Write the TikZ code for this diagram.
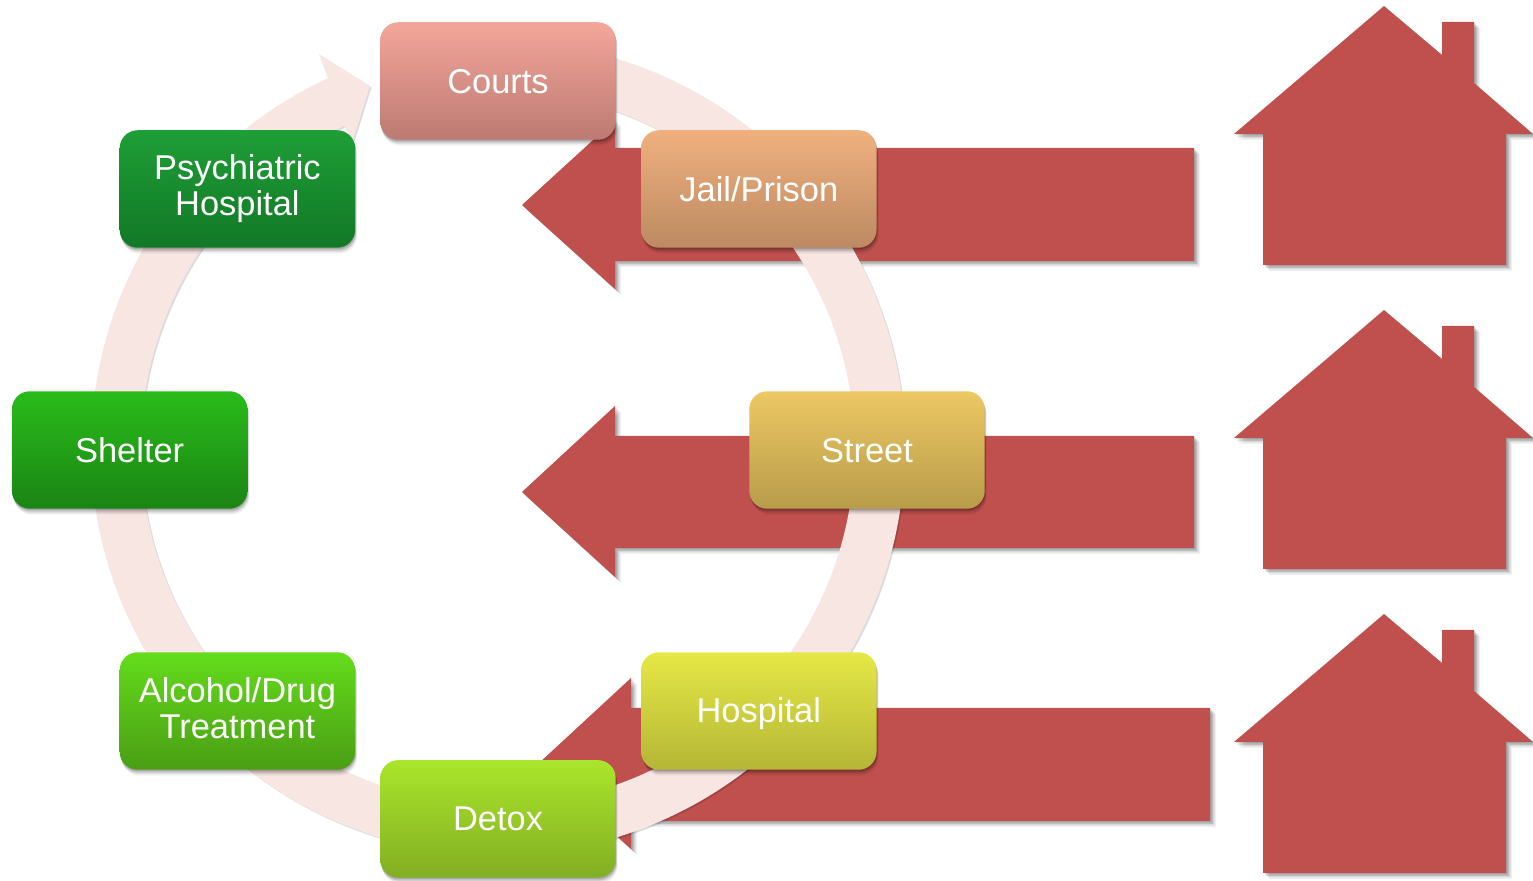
\documentclass[tikz,border=0pt]{standalone}
\usepackage{fontspec}
\setmainfont{Liberation Sans}
\usepackage{tikz}
\usetikzlibrary{shadows}
\definecolor{arrowred}{HTML}{C0504D}
\definecolor{ringpink}{HTML}{F8E6E3}
\definecolor{courtstop}{HTML}{F4A69A}
\definecolor{courtsbot}{HTML}{BC7A72}
\definecolor{detoxtop}{HTML}{AAE62C}
\definecolor{detoxbot}{HTML}{82AE22}
\definecolor{jailtop}{HTML}{F0B07E}
\definecolor{jailbot}{HTML}{BC8A62}
\definecolor{psychtop}{HTML}{1E9E36}
\definecolor{psychbot}{HTML}{127826}
\definecolor{streettop}{HTML}{EDC864}
\definecolor{streetbot}{HTML}{B89C4A}
\definecolor{sheltertop}{HTML}{2ABC1A}
\definecolor{shelterbot}{HTML}{1A8414}
\definecolor{hosptop}{HTML}{E6E846}
\definecolor{hospbot}{HTML}{B4B636}
\definecolor{alcoholtop}{HTML}{64DC1C}
\definecolor{alcoholbot}{HTML}{4A9E14}
\newcommand{\blockstrut}{\rule[-3.5pt]{0pt}{20.8pt}}
\tikzstyle{soft} = [drop shadow={shadow xshift=0.03cm, shadow yshift=-0.03cm, opacity=.14, fill=black},
    drop shadow={shadow xshift=0.06cm, shadow yshift=-0.06cm, opacity=.12, fill=black},
    drop shadow={shadow xshift=0.09cm, shadow yshift=-0.09cm, opacity=.1, fill=black},
    drop shadow={shadow xshift=0.12cm, shadow yshift=-0.12cm, opacity=.06, fill=black}]
\tikzstyle{blockshade} = [drop shadow={shadow xshift=0.01cm, shadow yshift=-0.03cm, opacity=.14, fill=black},
    drop shadow={shadow xshift=0.02cm, shadow yshift=-0.06cm, opacity=.12, fill=black},
    drop shadow={shadow xshift=0.03cm, shadow yshift=-0.09cm, opacity=.08, fill=black},
    drop shadow={shadow xshift=0.04cm, shadow yshift=-0.12cm, opacity=.05, fill=black}]
\tikzstyle{block} = [rectangle, blockshade, text=white, align=center, rounded corners=0.36cm,
    minimum width=4.71cm, minimum height=2.35cm, inner sep=0pt, font=\fontsize{19.6}{20.5}\selectfont,
    execute at begin node=\blockstrut, execute at end node=\blockstrut]
\tikzstyle{bigarrow} = [fill=arrowred, soft]
\tikzstyle{ring} = [fill=ringpink, drop shadow={shadow xshift=0.03cm, shadow yshift=-0.03cm, opacity=.14, fill=black}]

\begin{document}
\begin{tikzpicture}[x=0.02cm, y=0.02cm]
    \useasboundingbox (0,0) rectangle (1533,881);
    % Houses
    \foreach \shift in {0,-304,-608} {
        \fill [bigarrow, shift={(0,\shift)}] (1384,875) -- (1442,826) -- (1442,859) -- (1474,859)
            -- (1474,798) -- (1533,747) -- (1506,747) -- (1506,616) -- (1263,616) -- (1263,747)
            -- (1234,747) -- cycle;
    }
    % Big arrows
    \fill [bigarrow] (522,676) -- (615,761) -- (615,733) -- (1194,733) -- (1194,620)
        -- (615,620) -- (615,592) -- cycle;
    \fill [bigarrow] (522,389) -- (615,475) -- (615,445) -- (1194,445) -- (1194,333)
        -- (615,333) -- (615,304) -- cycle;
    \fill [bigarrow] (538,117) -- (631,203) -- (631,173) -- (1210,173) -- (1210,60)
        -- (631,60) -- (631,32) -- cycle;
    % Ring
    \coordinate (ringcentre) at (498,433);
    \fill [ring] (ringcentre) ++(80:8.14cm) arc [start angle=80, end angle=-245.3, radius=8.14cm]
        -- (319,827) -- (370,795) -- (353,741) -- (344,755)
        arc [start angle=-244.5, end angle=80, radius=7.14cm] -- cycle;
    % Place nodes
    \node [block, top color=courtstop, bottom color=courtsbot] (courts) at (498,800) {Courts};
    \node [block, top color=detoxtop, bottom color=detoxbot, below of=courts, node distance=14.76cm] (detox) {Detox};
    \node [block, top color=jailtop, bottom color=jailbot] (jail) at (758.8,692) {Jail/Prison};
    \node [block, top color=psychtop, bottom color=psychbot, left of=jail, node distance=10.43cm] (psychiatric) {Psychiatric\\Hospital};
    \node [block, top color=streettop, bottom color=streetbot] (street) at (867,431) {Street};
    \node [block, top color=sheltertop, bottom color=shelterbot, left of=street, node distance=14.75cm] (shelter) {Shelter};
    \node [block, top color=hosptop, bottom color=hospbot] (hospital) at (758.8,170) {Hospital};
    \node [block, top color=alcoholtop, bottom color=alcoholbot, left of=hospital, node distance=10.43cm] (alcohol) {Alcohol/Drug\\Treatment};
\end{tikzpicture}
\end{document}
